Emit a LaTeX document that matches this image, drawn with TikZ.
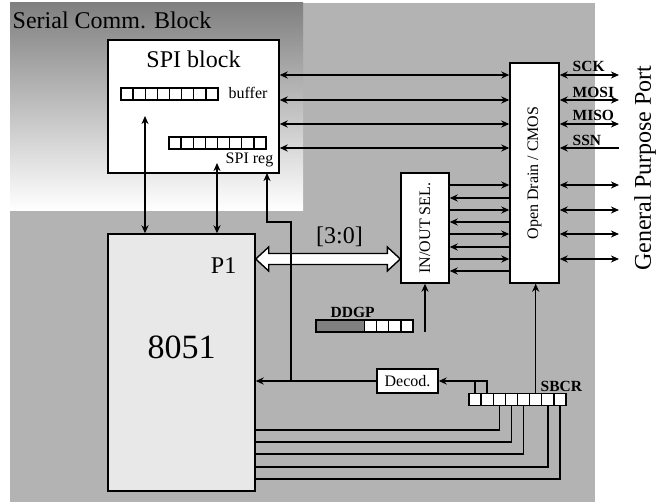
\documentclass[tikz,border=0pt]{standalone}
\usepackage{fontspec}
\setmainfont{Liberation Serif}
\usetikzlibrary{arrows.meta,calc}
\definecolor{panel}{HTML}{B3B3B3}
\definecolor{shade}{HTML}{E8E8E8}
\definecolor{fillgray}{HTML}{808080}

\begin{document}
\begin{tikzpicture}[x=1pt,y=-1pt,line width=1.4pt,
    >={Stealth[length=8pt,width=7pt,inset=2.5pt]},
    box/.style={draw,fill=white,inner sep=0pt},
    cell/.style={draw,fill=white,minimum width=12.125pt,minimum height=12pt,inner sep=0pt},
    big/.style={font=\fontsize{24}{28}\selectfont},
    small/.style={font=\fontsize{16}{18}\selectfont},
    tag/.style={font=\bfseries\fontsize{15.5}{17}\selectfont,anchor=base west,inner sep=0pt}]
  \useasboundingbox (0,0) rectangle (667,503);
  \fill[panel] (10,3) rectangle (595,502);
  \fill[shade] (10,3) rectangle (303,210);
  \node[big,anchor=base west,inner sep=0pt] (scb) at (12,29) {Serial Comm. Block};

  % blocks
  \node[box,minimum width=171pt,minimum height=133pt] (spi) at (193.5,106.5) {};
  \node[big,anchor=base] (spit) at (193.5,67) {SPI block};
  \node[box,fill=shade,minimum width=147pt,minimum height=257pt] (mcu) at (181.5,362.5) {};
  \node[font=\fontsize{34}{40}\selectfont] (mcut) at (181.5,347.5) {8051};
  \node[big,anchor=base east,inner sep=0pt] (p1) at (237,273) {P1};
  \node[box,minimum width=48pt,minimum height=110pt] (iosel) at (425,228) {};
  \node[small,rotate=90] (iotxt) at (iosel) {IN/OUT SEL.};
  \node[box,minimum width=49pt,minimum height=220pt] (odc) at (534.5,173) {};
  \node[small,rotate=90] (odtxt) at (odc) {Open Drain / CMOS};
  \node[box,small,minimum width=61pt,minimum height=24pt] (decod) at (407.5,381) {Decod.};
  \node[big,rotate=90] (gpp) at (645,168) {General Purpose Port};

  % registers
  \foreach \i in {1,...,8} {
    \node[cell] (buf\i) at ({121+12.125*(\i-0.5)},94) {};
    \node[cell] (reg\i) at ({169+12.125*(\i-0.5)},143) {};
    \node[cell] (sbcr\i) at ({469+12.125*(\i-0.5)},399.5) {};
  }
  \node[small,anchor=base west,inner sep=0pt] (buft) at (228,98.5) {buffer};
  \node[small,anchor=base east,inner sep=0pt] (regt) at (274,163) {SPI reg};
  \node[cell,fill=fillgray,minimum width=48.5pt] (ddgp0) at (340.25,326) {};
  \foreach \i in {5,...,8}
    \node[cell] (ddgp\i) at ({316+12.125*(\i-0.5)},326) {};
  \node[tag] (ddgpt) at (330,317) {DDGP};
  \node[tag] (sbcrt) at (540,391) {SBCR};

  % SPI block to 8051
  \coordinate (bufTap) at (145,116);
  \coordinate (regTap) at (217,163);
  \draw[<->] (bufTap) -- (bufTap |- mcu.north);
  \draw[<->] (regTap) -- (regTap |- mcu.north);

  % SPI block to pads
  \foreach \y in {75,100,124,148} {
    \coordinate (r) at (0,\y);
    \draw[<->] (r -| spi.east) -- (r -| odc.west);
  }
  \foreach \y in {185,210,234,259} {
    \coordinate (r) at (0,\y);
    \draw[->] (r -| iosel.east) -- (r -| odc.west);
  }
  \foreach \y in {198,222,247,271} {
    \coordinate (r) at (0,\y);
    \draw[<-] (r -| iosel.east) -- (r -| odc.west);
  }
  \foreach \y in {75,100,124,185,210,234,259} {
    \coordinate (p) at (619,\y);
    \draw[<->] (p -| odc.east) -- (p);
  }
  \coordinate (ssnIn) at (619,148);
  \draw[<-] (ssnIn -| odc.east) -- (ssnIn);
  \node[tag] (sck) at (572,72) {SCK};
  \node[tag] (mosi) at (572,97) {MOSI};
  \node[tag] (miso) at (572,121) {MISO};
  \node[tag] (ssn) at (572,145) {SSN};

  % P1 bus
  \coordinate (bus) at (0,259);
  \draw[fill=white] (bus -| mcu.east) -- ++(13,-12) -- ++(0,6.5)
    -- ($(bus -| iosel.west)+(-13,-5.5)$) -- ++(0,-6.5) -- (bus -| iosel.west)
    -- ++(-13,12) -- ++(0,-6.5) -- ($(bus -| mcu.east)+(13,5.5)$) -- ++(0,6.5) -- cycle;
  \node[big] (bust) at (339.5,237) {[3:0]};

  % control
  \coordinate (selIn) at (425,332);
  \draw[->] (selIn) -- (iosel.south);
  \draw[->] (sbcr6.north) -- (sbcr6.north |- odc.south);
  \draw (sbcr1.north) |- (decod.east -| sbcr2.north) -- (sbcr2.north);
  \draw[->] (decod.east -| sbcr2.north) -- (decod.east);
  \draw[->] (decod.west) -- (mcu.east |- decod.west);
  \coordinate (jn) at (291,381);
  \coordinate (regIn) at (267,173);
  \draw[->] (jn) -- (291,222) -| (regIn);
  \foreach \i/\y in {3/430,4/442,5/454,7/467,8/479} {
    \coordinate (lv) at (0,\y);
    \draw (sbcr\i.south) |- (lv -| mcu.east);
  }
\end{tikzpicture}
\end{document}
